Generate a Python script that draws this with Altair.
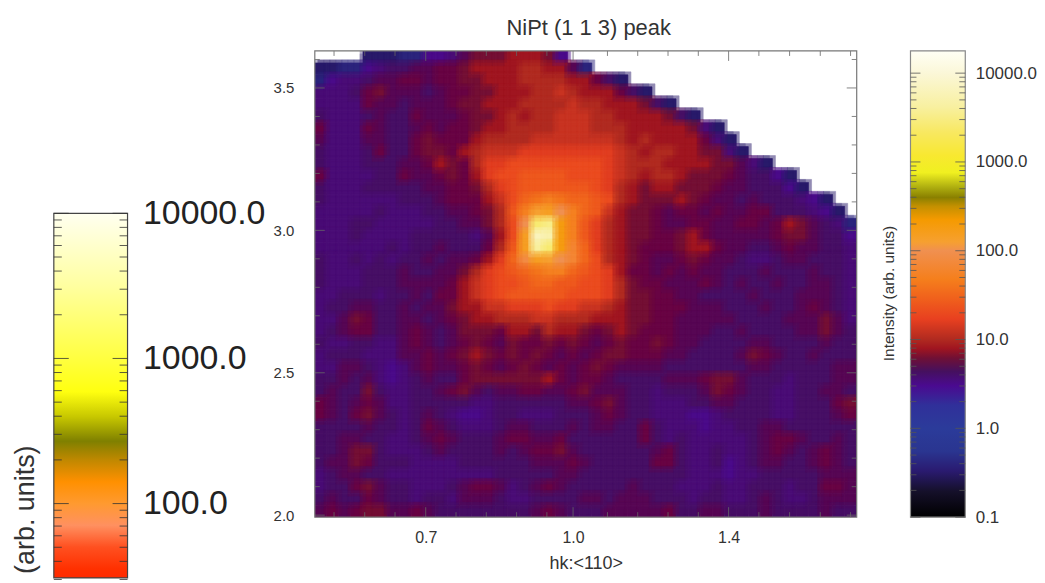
import altair as alt
import numpy as np
import pandas as pd

_ = None
# log10(intensity) x 10; row 0 is the top row
LEVELS = [
[_,_,_,_,1,1,1,2,2,3,3,4,6,8,8,8,9,9,9,8,3],
[1,1,2,2,3,4,5,5,6,6,7,7,8,9,9,9,9,10,10,9,9,6,2],
[2,3,4,4,5,6,6,7,7,6,7,7,8,8,9,9,9,10,10,10,10,9,9,7,5,1],
[4,4,4,5,7,8,6,6,6,5,6,7,7,8,8,9,9,9,10,10,11,10,9,9,9,7,5,1],
[4,4,4,4,7,6,6,5,6,6,6,7,8,8,9,9,9,10,10,10,10,11,10,10,9,9,9,8,5,1],
[5,4,4,4,5,6,5,5,7,6,6,6,7,8,8,9,10,9,10,10,11,11,11,10,10,9,9,9,9,8,5,1],
[7,4,4,4,7,6,5,5,6,7,6,7,7,8,9,9,10,10,10,10,11,11,11,10,10,10,9,9,9,9,9,8,4,1],
[6,4,4,4,6,6,5,5,7,8,7,7,7,9,10,10,10,10,11,11,11,11,11,11,11,10,9,10,9,9,9,9,7,4,1],
[5,4,4,4,5,7,5,5,7,8,8,7,9,10,11,11,11,12,12,12,12,12,12,12,12,11,10,9,10,10,9,9,8,8,4,1],
[5,4,4,4,5,5,5,6,6,7,9,8,7,10,12,12,13,13,13,13,13,13,13,13,12,11,10,10,10,9,9,9,9,8,8,6,4,1],
[7,4,4,4,4,5,5,7,6,6,7,8,7,9,12,13,13,14,14,14,14,13,13,13,12,11,10,9,10,10,9,8,8,8,7,6,5,5,3,1],
[5,4,4,4,5,5,5,5,5,6,6,7,7,8,10,12,13,14,14,14,14,14,14,13,12,10,9,8,9,9,8,8,8,7,6,6,5,5,5,3,1],
[5,4,4,4,4,4,4,5,5,5,6,7,7,7,9,11,13,15,16,17,16,15,15,14,13,10,9,8,8,8,9,8,7,6,6,5,6,5,5,5,4,3,1],
[4,4,4,4,4,5,4,4,4,5,5,6,6,7,8,10,14,17,21,22,20,17,15,14,11,9,8,8,7,6,7,7,6,7,6,6,7,7,5,5,5,4,3,1],
[4,4,4,5,5,4,4,4,4,4,5,5,6,6,8,10,13,20,34,35,23,17,14,12,10,9,8,8,7,6,6,7,7,6,6,7,7,6,7,9,8,6,5,4,2],
[4,4,4,5,4,4,4,4,5,5,5,5,5,4,6,9,13,22,38,37,23,17,14,12,10,9,8,8,7,7,8,9,7,6,6,6,6,6,7,8,8,6,5,5,3],
[4,4,4,4,4,4,5,4,5,5,6,5,5,5,7,10,14,22,36,34,23,18,15,12,10,9,8,7,7,7,8,9,9,7,6,6,5,5,6,7,6,6,5,5,4],
[5,4,4,5,4,5,4,5,5,6,5,6,6,7,9,12,15,19,22,21,20,18,15,13,10,9,8,7,6,6,7,8,7,6,6,5,4,4,5,6,6,5,5,5,4],
[5,4,4,4,5,5,5,6,5,5,6,6,8,10,12,13,14,15,16,17,17,15,14,13,12,9,7,7,6,7,6,7,6,6,5,5,5,6,5,5,5,6,5,5,4],
[5,4,4,4,5,5,5,6,6,6,6,7,9,11,12,13,13,14,15,15,14,14,13,13,12,10,8,7,7,6,6,6,7,6,5,6,5,5,6,5,5,6,6,5,4],
[4,4,5,5,5,4,5,5,6,5,7,7,9,11,12,13,14,14,14,14,14,13,13,13,12,10,8,8,7,7,6,6,5,5,5,5,6,5,5,5,6,6,6,5,4],
[4,5,5,6,6,5,5,6,5,6,6,8,9,9,11,11,12,12,12,13,12,12,11,11,10,9,8,8,7,7,7,6,6,6,5,5,5,6,5,5,6,7,6,5,4],
[4,4,6,8,7,5,5,6,6,5,6,7,8,9,9,10,10,10,11,11,10,10,10,9,9,9,8,8,7,7,6,6,6,6,6,5,5,5,5,6,6,6,8,6,4],
[4,5,6,7,7,5,5,6,7,6,5,6,8,8,8,7,9,9,8,10,9,9,8,7,8,9,8,7,7,7,6,6,6,5,5,6,5,5,5,5,6,6,8,6,5],
[5,4,4,5,5,4,4,6,7,6,5,6,7,8,7,6,8,7,7,8,7,8,7,6,7,8,7,7,8,7,6,6,5,5,5,5,6,6,5,5,5,5,6,5,5],
[4,5,5,5,4,4,4,6,6,7,6,7,8,9,8,7,8,7,8,7,6,7,6,7,8,8,7,7,7,6,6,5,5,5,5,6,8,7,6,5,5,6,5,5,5],
[4,4,6,6,5,4,3,4,6,7,6,6,7,8,7,6,7,8,7,6,7,6,7,8,7,6,6,6,6,5,5,5,5,5,5,5,6,6,5,5,5,5,5,6,6],
[5,5,6,5,6,4,3,4,5,6,5,5,7,8,8,8,8,8,8,9,7,6,7,7,6,5,5,5,5,6,6,6,7,8,8,6,5,5,5,4,5,5,5,6,6],
[5,6,5,5,8,5,4,4,5,5,6,7,8,6,5,6,6,7,7,6,6,7,8,6,6,6,5,5,4,5,5,5,6,8,7,6,5,5,4,4,5,5,6,6,5],
[7,6,5,6,7,6,4,4,5,5,5,5,5,4,4,5,5,5,5,5,5,6,6,7,8,6,5,5,4,4,4,5,5,6,6,5,5,5,4,4,5,5,5,7,8],
[7,6,5,7,8,6,5,4,5,6,5,4,3,3,4,5,5,4,4,4,5,5,5,6,7,6,5,5,4,4,4,3,3,4,5,5,5,5,4,4,5,5,5,6,7],
[5,5,5,5,6,5,5,4,5,7,6,5,4,4,4,5,6,6,5,5,5,6,5,6,6,5,5,7,5,4,4,4,3,4,4,5,5,6,6,5,5,5,5,5,5],
[5,5,6,6,5,5,4,4,5,6,7,6,5,5,5,6,7,7,6,6,7,5,5,5,5,5,5,7,5,4,5,4,4,4,4,4,5,6,7,7,6,5,5,6,5],
[5,5,6,8,8,5,4,4,4,5,6,5,5,5,5,6,5,6,7,7,8,6,5,5,5,5,5,5,6,7,5,4,4,5,4,4,5,6,7,6,5,6,7,6,5],
[5,6,6,8,7,5,5,5,4,4,4,4,5,5,5,5,5,5,6,6,6,7,6,5,5,5,5,5,7,7,5,4,4,5,3,4,5,6,6,5,5,6,7,6,5],
[4,5,6,6,5,5,4,4,4,4,4,4,4,4,4,5,5,5,5,5,6,6,5,5,5,5,5,5,5,5,5,4,4,4,3,4,4,5,5,5,5,5,6,6,6],
[4,5,5,7,8,6,5,5,4,4,4,5,6,7,7,6,4,5,6,7,6,5,5,5,5,5,6,5,5,5,4,4,4,5,4,4,5,5,5,4,5,5,7,7,6],
[5,6,5,5,7,6,5,5,4,5,5,4,6,6,6,5,4,4,5,5,5,5,6,6,5,6,6,6,5,5,5,4,5,5,4,4,5,6,5,4,4,5,6,6,6],
[6,7,6,7,8,8,6,6,7,6,5,5,5,5,5,5,5,5,6,7,6,5,5,5,6,6,6,6,6,7,5,5,6,6,5,5,5,6,5,5,5,5,6,5,5],
]

X_DOMAIN = [0.389, 1.713]
Y_DOMAIN = [1.993, 3.63]
X_LABELLED = [0.66, 1.02, 1.40]
Y_LABELLED = [2.0, 2.5, 3.0, 3.5]
X_MINOR = [0.436, 0.511, 0.585, 0.734, 0.808, 0.882, 0.956, 1.104, 1.178, 1.252, 1.326, 1.474, 1.549, 1.624, 1.698]
Y_MINOR = [2.1, 2.2, 2.3, 2.4, 2.6, 2.7, 2.8, 2.9, 3.1, 3.2, 3.3, 3.4, 3.6]
BAR_LABELLED = [0.1, 1, 10, 100, 1000, 10000]
BAR_MINOR = [0.2, 0.3, 0.4, 0.5, 0.6, 0.7, 0.8, 0.9, 2, 3, 4, 5, 6, 7, 8, 9, 20, 30, 40, 50, 60, 70, 80, 90,
             200, 300, 400, 500, 600, 700, 800, 900, 2000, 3000, 4000, 5000, 6000, 7000, 8000, 9000]

# colour ramp of the main map and right bar: log10(intensity) -> colour
RAMP_LOG = [-1.0, -0.71, -0.48, -0.26, 0.0, 0.26, 0.48, 0.64, 0.79, 0.9, 1.0, 1.23, 1.46, 1.68, 2.0, 2.1,
            2.35, 2.5, 2.6, 2.72, 2.88, 3.07, 3.33, 3.62, 4.0, 4.25]
RAMP_COL = ["#000000", "#15102a", "#2a1a70", "#2a3590", "#2b3b9a", "#30309a", "#4a0a90", "#45105f", "#6f1035",
            "#a01520", "#b02a20", "#e84020", "#f0601c", "#f57f1c", "#f09050", "#f6a030", "#f59a00", "#c49000",
            "#8a8000", "#b0b010", "#f0f020", "#f8e830", "#f8e860", "#f8f0a0", "#fbf7d8", "#fffff5"]
# colour ramp of the left bar
LEFT_LOG = [1.488, 1.55, 1.7, 1.85, 2.0, 2.15, 2.3, 2.43, 2.6, 2.77, 3.0, 3.5, 4.0]
LEFT_COL = ["#ff2a00", "#ff3000", "#ff5020", "#ff9060", "#ff9a30", "#ff9000", "#c08800", "#7f8000", "#c8c800",
            "#ffff10", "#ffff40", "#ffffa0", "#fffff0"]

AX = "#666666"
TXT = "#333333"
FONT = "Liberation Sans"
W, H = 544, 468
nc, nr = 45, len(LEVELS)
xe = np.linspace(X_DOMAIN[0], X_DOMAIN[1], nc + 1)
ye = np.linspace(Y_DOMAIN[1], Y_DOMAIN[0], nr + 1)
dx = (xe[1] - xe[0]) / 4
dy = (ye[0] - ye[1]) / 4

def calibrated(v):
    # the picture's floor is purple and its rim dark blue, a little off the bar's own blues
    if v <= 2:
        return v - 6
    if v <= 7:
        return 5 + (v - 3) * 0.6
    return v

cells = []
for j, row in enumerate(LEVELS):
    for i, v in enumerate(row):
        if v is not None:
            cells.append(dict(x=xe[i], x2=xe[i + 1], y=ye[j + 1], y2=ye[j], v=calibrated(v) / 10))
cells = pd.DataFrame(cells)

col_scale = alt.Scale(domain=RAMP_LOG, range=RAMP_COL, clamp=True)
x_scale = alt.Scale(domain=X_DOMAIN, nice=False, zero=False)
y_scale = alt.Scale(domain=Y_DOMAIN, nice=False, zero=False)
x_axis = alt.Axis(values=X_LABELLED, format=".1f", ticks=False, domain=False, grid=False,
                  labelFontSize=16, labelColor=TXT, labelFont=FONT, labelPadding=12,
                  title="hk:<110>", titleFontSize=18, titleFontWeight="normal", titleColor=TXT,
                  titleFont=FONT, titlePadding=10)
y_axis = alt.Axis(values=Y_LABELLED, format=".1f", ticks=False, domain=False, grid=False,
                  labelFontSize=15, labelColor=TXT, labelFont=FONT, labelPadding=21, title=None)

def heat_layer(sx, sy, opacity):
    d = cells.assign(x=cells.x + sx * dx, x2=cells.x2 + sx * dx, y=cells.y + sy * dy, y2=cells.y2 + sy * dy)
    return alt.Chart(d).mark_rect(strokeWidth=0.6, clip=True, opacity=opacity).encode(
        x=alt.X("x:Q", scale=x_scale, axis=x_axis),
        x2="x2:Q",
        y=alt.Y("y:Q", scale=y_scale, axis=y_axis),
        y2="y2:Q",
        color=alt.Color("v:Q", scale=col_scale, legend=None),
        stroke=alt.Stroke("v:Q", scale=col_scale, legend=None),
    )

def vticks(vals, y0, y1, w=0.8, c=AX):
    return alt.Chart(pd.DataFrame({"x": vals})).mark_rule(color=c, strokeWidth=w).encode(
        x="x:Q", y=alt.value(y0), y2=alt.value(y1))

def hticks(vals, x0, x1, w=0.8, c=AX, field="y"):
    return alt.Chart(pd.DataFrame({field: vals})).mark_rule(color=c, strokeWidth=w).encode(
        y=f"{field}:Q", x=alt.value(x0), x2=alt.value(x1))

frame = alt.Chart(pd.DataFrame({"a": [0]})).mark_rect(fillOpacity=0, stroke="#777777", strokeWidth=1.2).encode(
    x=alt.value(0), x2=alt.value(W), y=alt.value(0), y2=alt.value(H))

main = alt.layer(
    heat_layer(0, 0, 1),
    heat_layer(1, 1, 0.5),
    heat_layer(-1, 1, 0.33),
    heat_layer(-1, -1, 0.25),
    vticks(X_MINOR, 0, 5), vticks(X_LABELLED, 0, 10),
    vticks(X_MINOR, H, H - 5), vticks(X_LABELLED, H, H - 10),
    hticks(Y_MINOR, 0, 5), hticks(Y_LABELLED, 0, 10),
    hticks(Y_MINOR, W, W - 5), hticks(Y_LABELLED, W, W - 10),
    frame,
).properties(width=W, height=H,
             title=alt.TitleParams("NiPt (1 1 3) peak", fontSize=22, fontWeight="normal", color=TXT, font=FONT,
                                   offset=10, dx=3))

def gradient(logs, cols):
    lo, hi = logs[0], logs[-1]
    return alt.LinearGradient(gradient="linear", x1=0, x2=0, y1=1, y2=0,
                              stops=[alt.GradientStop(color=c, offset=(l - lo) / (hi - lo)) for l, c in zip(logs, cols)])

# right bar
R_W = 55
r_dom = [0.1, 10 ** 4.25]
right_bar = alt.Chart(pd.DataFrame({"a": [r_dom[0]], "b": [r_dom[1]]})).mark_rect(
    color=gradient(RAMP_LOG, RAMP_COL), stroke="#888888", strokeWidth=1.2).encode(
    x=alt.value(0), x2=alt.value(R_W),
    y=alt.Y("a:Q", scale=alt.Scale(type="log", domain=r_dom, nice=False),
            axis=alt.Axis(orient="right", values=BAR_LABELLED, format=".1f", ticks=False, domain=False, grid=False,
                          labelFontSize=17, labelColor=TXT, labelFont=FONT, labelPadding=10,
                          title="Intensity (arb. units)", titleFontSize=15.5, titleFontWeight="normal",
                          titleColor=TXT, titleFont=FONT, titleAngle=270, titleX=-69, titleY=243)),
    y2="b:Q",
)
right = alt.layer(
    right_bar,
    hticks(BAR_MINOR, 0, 6, c="#555555", field="t"), hticks(BAR_LABELLED, 0, 10, c="#555555", field="t"),
    hticks(BAR_MINOR, R_W, R_W - 6, c="#555555", field="t"), hticks(BAR_LABELLED, R_W, R_W - 10, c="#555555", field="t"),
).properties(width=R_W, height=H)

# left bar: the window cuts it off at the bottom
L_W = 74
L_H = 529
L_TOP = 163
l_dom = [10 ** LEFT_LOG[0], 10000]
l_scale = alt.Scale(type="log", domain=l_dom, range=[L_H, L_TOP], nice=False)
left_bar = alt.Chart(pd.DataFrame({"a": [l_dom[0]], "b": [l_dom[1]]})).mark_rect(
    color=gradient(LEFT_LOG, LEFT_COL), stroke="#444444", strokeWidth=1.2).encode(
    x=alt.value(0), x2=alt.value(L_W),
    y=alt.Y("a:Q", scale=l_scale,
            axis=alt.Axis(orient="right", values=[100, 1000, 10000], format=".1f", ticks=False, domain=False,
                          grid=False, labelFontSize=34, labelColor="#222222", labelFont=FONT, labelPadding=15,
                          title="(arb. units)", titleFontSize=27, titleFontWeight="normal", titleColor=TXT,
                          titleFont=FONT, titleAngle=270, titleX=-88, titleY=460)),
    y2="b:Q",
)
left_minor = [v for v in BAR_MINOR if v >= 30]
left = alt.layer(
    left_bar,
    hticks(left_minor, 0, 8, c="#333333", field="t"), hticks([100, 1000, 10000], 0, 15, c="#333333", field="t"),
    hticks(left_minor, L_W, L_W - 8, c="#333333", field="t"), hticks([100, 1000, 10000], L_W, L_W - 15, c="#333333", field="t"),
).properties(width=L_W, height=L_H)

chart = alt.hconcat(
    left,
    alt.hconcat(main, right, spacing=54, bounds="flush").resolve_scale(color="independent", y="independent", x="independent"),
    spacing=188, bounds="flush",
).properties(padding=alt.Padding(left=4, top=8, right=0, bottom=0)).configure_view(stroke=None)

chart.save("out.html", embed_options={"renderer": "svg", "actions": False})
